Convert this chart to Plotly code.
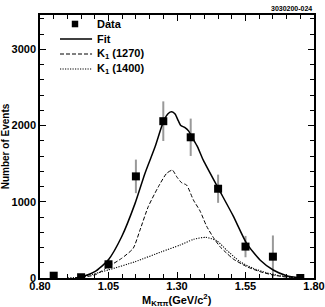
import plotly.graph_objects as go

# Data points
data_x = [0.85, 0.95, 1.05, 1.15, 1.25, 1.35, 1.45, 1.55, 1.65, 1.75]
data_y = [30, 10, 180, 1333, 2057, 1846, 1171, 412, 280, 0]
data_err = [20, 15, 70, 220, 260, 245, 185, 140, 278, 10]

# Fit (solid)
fit_x = [0.93, 0.952, 1.0, 1.049, 1.098, 1.147, 1.183, 1.22, 1.25, 1.268, 1.281, 1.293,
         1.305, 1.313, 1.328, 1.342, 1.356, 1.375, 1.396, 1.451, 1.505, 1.554, 1.603,
         1.651, 1.70, 1.75]
fit_y = [0, 15, 83, 236, 541, 979, 1372, 1721, 2048, 2158, 2180, 2150,
         2060, 2005, 1975, 1930, 1840, 1720, 1546, 1175, 815, 455, 236,
         105, 30, 0]

# K1(1270) (dashed)
k1270_x = [0.93, 1.0, 1.049, 1.098, 1.14, 1.165, 1.195, 1.232, 1.262, 1.283, 1.299, 1.317,
           1.335, 1.36, 1.384, 1.408, 1.433, 1.457, 1.48, 1.505, 1.554, 1.603, 1.651,
           1.70, 1.75]
k1270_y = [0, 40, 148, 258, 389, 629, 935, 1197, 1372, 1415, 1328, 1249,
           1219, 1022, 880, 680, 530, 410, 330, 250, 150, 83, 39,
           12, 0]

# K1(1400) (dotted)
k1400_x = [0.90, 0.952, 1.049, 1.147, 1.244, 1.311, 1.36, 1.405, 1.445, 1.481, 1.53,
           1.578, 1.627, 1.676, 1.75]
k1400_y = [0, 15, 105, 214, 345, 432, 507, 533, 489, 367, 214,
           127, 69, 30, 0]

x_ticks = [0.80, 1.05, 1.30, 1.55, 1.80]
y_ticks = [0, 1000, 2000, 3000]

legend_labels = ["<b>Data</b>", "<b>Fit</b>", "<b>K<sub>1</sub> (1270)</b>", "<b>K<sub>1</sub> (1400)</b>"]

FONT = "Liberation Sans, Arial, Helvetica, sans-serif"
DASH = "4px,2px"
DOT = "1.2px,1.3px"

fig = go.Figure()
fig.add_trace(go.Scatter(
    x=data_x, y=data_y, mode="markers", name="Data",
    marker=dict(symbol="square", size=8, color="black"),
    error_y=dict(type="data", array=data_err, color="#999999", thickness=2, width=0),
))
fig.add_trace(go.Scatter(
    x=fit_x, y=fit_y, mode="lines", name="Fit",
    line=dict(color="black", width=1.5, shape="spline", smoothing=0.6),
))
fig.add_trace(go.Scatter(
    x=k1270_x, y=k1270_y, mode="lines", name="K1 (1270)",
    line=dict(color="black", width=1, dash=DASH, shape="spline", smoothing=0.6),
))
fig.add_trace(go.Scatter(
    x=k1400_x, y=k1400_y, mode="lines", name="K1 (1400)",
    line=dict(color="black", width=1.1, dash=DOT, shape="spline", smoothing=0.6),
))

# Manual legend (paper coordinates)
row_y = [0.9658, 0.9087, 0.8517, 0.7947]
shapes = [
    dict(type="rect", xref="paper", yref="paper", x0=0.1160, x1=0.1395,
         y0=row_y[0] - 0.0125, y1=row_y[0] + 0.0125, fillcolor="black", line=dict(width=0)),
    dict(type="line", xref="paper", yref="paper", x0=0.073, x1=0.19, y0=row_y[1], y1=row_y[1],
         line=dict(color="black", width=1.5)),
    dict(type="line", xref="paper", yref="paper", x0=0.073, x1=0.19, y0=row_y[2], y1=row_y[2],
         line=dict(color="black", width=1, dash=DASH)),
    dict(type="line", xref="paper", yref="paper", x0=0.073, x1=0.19, y0=row_y[3], y1=row_y[3],
         line=dict(color="black", width=1.1, dash=DOT)),
]
annotations = [dict(text=lab, x=0.20, y=yy, xref="paper", yref="paper", xanchor="left",
                    yanchor="middle", showarrow=False, font=dict(size=11, family=FONT))
               for lab, yy in zip(legend_labels, row_y)]
annotations.append(dict(
    text="<b>3030200-024</b>", x=1.0, y=1.0, xref="paper", yref="paper",
    xanchor="right", yanchor="bottom", yshift=1, showarrow=False,
    font=dict(size=7, family=FONT),
))
annotations.append(dict(
    text="<b>M<sub>Kππ</sub>(GeV/c<sup>2</sup>)</b>", x=0.5, y=0, xref="paper", yref="paper",
    xanchor="center", yanchor="top", yshift=-12, showarrow=False,
    font=dict(size=11, family=FONT),
))

fig.update_layout(
    width=325, height=307,
    margin=dict(l=40, r=11, t=15, b=29, autoexpand=False),
    paper_bgcolor="white", plot_bgcolor="white",
    font=dict(family=FONT, color="black", size=11),
    showlegend=False,
    shapes=shapes,
    annotations=annotations,
    xaxis=dict(
        range=[0.8, 1.8], tickvals=x_ticks, ticktext=[f"{v:.2f}" for v in x_ticks],
        ticks="inside", ticklen=6, tickcolor="black", tickwidth=1, automargin=False,
        showline=True, linecolor="black", linewidth=1.5, mirror="allticks",
        showgrid=False, zeroline=False, ticklabelstandoff=-3,
        tickfont=dict(size=11, weight="bold"),
        minor=dict(dtick=0.05, tick0=0.8, ticks="inside", ticklen=4, tickcolor="black", showgrid=False),
    ),
    yaxis=dict(
        range=[0, 3450], tickvals=y_ticks, ticktext=[str(v) for v in y_ticks],
        ticks="inside", ticklen=6, tickcolor="black", tickwidth=1, automargin=False,
        showline=True, linecolor="black", linewidth=1.5, mirror="allticks",
        showgrid=False, zeroline=False,
        tickfont=dict(size=11, weight="bold"),
        minor=dict(dtick=200, tick0=0, ticks="inside", ticklen=4, tickcolor="black", showgrid=False),
        title=dict(text="<b>Number of Events</b>", font=dict(size=10), standoff=4),
    ),
)

fig.write_html("out.html", config={"displayModeBar": False},
               post_script="document.body.style.margin='0';")
